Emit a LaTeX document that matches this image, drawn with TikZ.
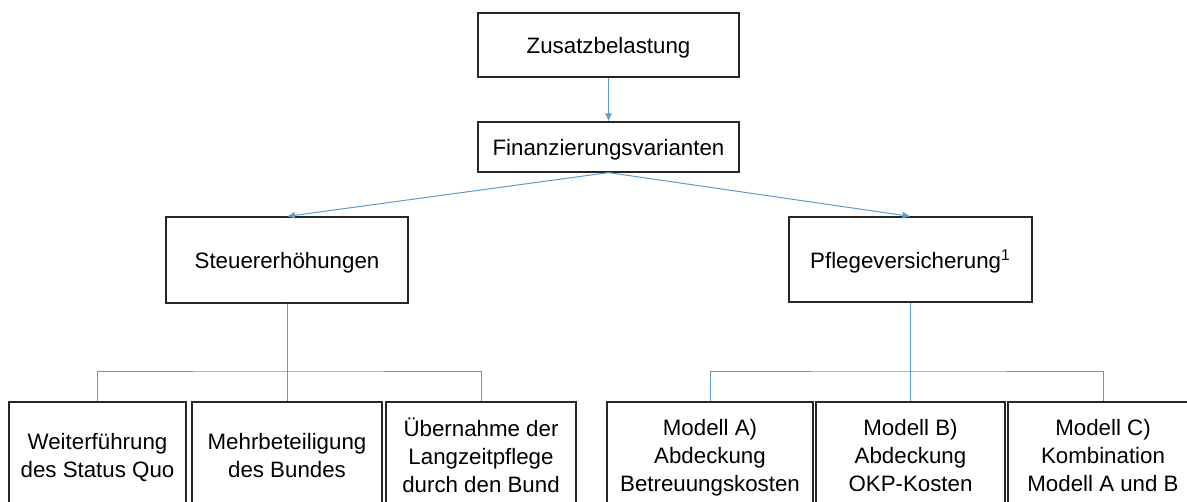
\documentclass[tikz,border=0pt]{standalone}
\usepackage{fontspec}
\setmainfont{Liberation Sans}
\usepackage{xcolor}
\usetikzlibrary{arrows.meta}
\definecolor{bleu}{HTML}{5B9BD5}

\begin{document}
\begin{tikzpicture}[x=0.5pt,y=-0.5pt]
\tikzstyle{boite}=[draw=black!85,line width=0.6pt,align=center,inner sep=0pt,text depth=0pt,font=\fontsize{11.15}{14}\selectfont]
\tikzstyle{fleche}=[-{Latex[length=4pt,width=3.5pt]},draw=bleu,line width=0.5pt]
\tikzstyle{trait}=[draw=bleu,line width=0.5pt]
\useasboundingbox (0,0) rectangle (1187,502);
\par
\node[boite,minimum width=130.5pt,minimum height=32pt] (zus) at (608.5,45) {Zusatzbelastung};
\node[boite,minimum width=130.5pt,minimum height=25pt] (fin) at (608.5,147) {Finanzierungsvarianten};
\node[boite,minimum width=121pt,minimum height=43pt] (steuer) at (287,260) {Steuererhöhungen};
\node[boite,minimum width=121.5pt,minimum height=42.5pt] (pflege) at (910.5,259.5) {Pflegeversicherung\textsuperscript{1}};
\par
% unten links
\node[boite,minimum width=88.5pt,minimum height=53pt] (weiter) at (97.5,455) {Weiterführung\\des Status Quo};
\node[boite,minimum width=95pt,minimum height=53pt] (mehr) at (287,455) {Mehrbeteiligung\\des Bundes};
\node[boite,minimum width=95pt,minimum height=53pt] (ueber) at (481,455) {Übernahme der\\Langzeitpflege\\durch den Bund};
% unten rechts
\node[boite,minimum width=103pt,minimum height=53pt] (modA) at (710,455) {Modell A)\\Abdeckung\\Betreuungskosten};
\node[boite,minimum width=94.5pt,minimum height=53pt] (modB) at (910.5,455) {Modell B)\\Abdeckung\\OKP-Kosten};
\node[boite,minimum width=95pt,minimum height=53pt] (modC) at (1103,455) {Modell C)\\Kombination\\Modell A und B};
\par
\draw[fleche] (zus) -- (fin);
\draw[fleche] (fin.south) -- (steuer.north);
\draw[fleche] (fin.south) -- (pflege.north);
\coordinate (busL) at (287,371);
\coordinate (busR) at (910.5,371);
\draw[trait] (steuer.south) -- (mehr.north);
\draw[trait] (weiter.north) |- (busL) -| (ueber.north);
\draw[trait] (pflege.south) -- (modB.north);
\draw[trait] (modA.north) |- (busR) -| (modC.north);
\par
\end{tikzpicture}
\end{document}
